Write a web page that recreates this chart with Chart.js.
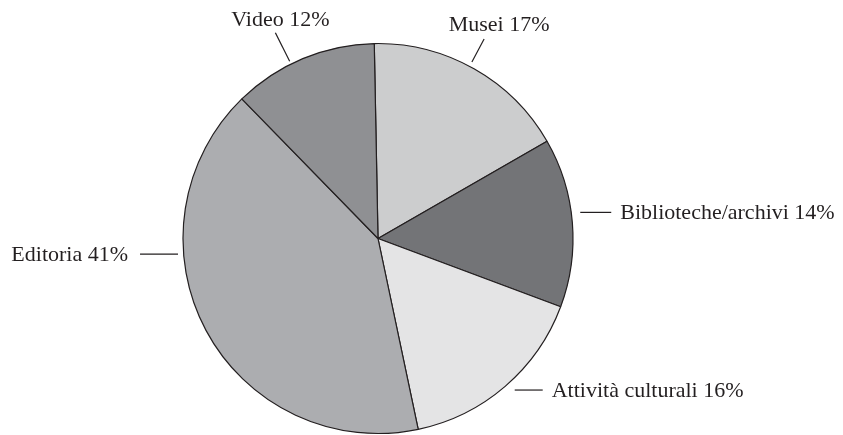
<!DOCTYPE html>
<html>
<head>
<meta charset="utf-8">
<script src="https://cdn.jsdelivr.net/npm/chart.js@4"></script>
<style>
    html, body { margin: 0; padding: 0; background: #ffffff; }
    #torta { display: block; }
</style>
</head>
<body>
<canvas id="torta" width="843" height="435"></canvas>
<script>
const categorie = ['Musei', 'Biblioteche/archivi', 'Attività culturali', 'Editoria', 'Video'];
const percentuali = [17, 14, 16, 41, 12];
const colori = ['#cccdce', '#737477', '#e4e4e5', '#acadb0', '#8f9093'];

// dove mettere le etichette: angolo sul bordo (gradi, 0 = destra, orario), tipo di linea
const posEtichette = [
    { tipo: 'radiale', angolo: -62, gap: 5, lung: 26, dx: 15, dy: -8 },
    { tipo: 'destra', angolo: -7.7, gap: 9, lung: 31, testoGap: 9 },
    { tipo: 'destra', angolo: 51, gap: 14, lung: 28, testoGap: 9 },
    { tipo: 'sinistra', angolo: 175.4, gap: 5.6, lung: 38, testoGap: 12 },
    { tipo: 'radiale', angolo: -116.5, gap: 3, lung: 32, dx: 5, dy: -7 }
];

const etichettePlugin = {
    id: 'etichette',
    afterDatasetsDraw(chart) {
        const ctx = chart.ctx;
        const arco = chart.getDatasetMeta(0).data[0];
        const cx = arco.x, cy = arco.y, r = arco.outerRadius;
        ctx.save();
        ctx.strokeStyle = '#231f20';
        ctx.fillStyle = '#231f20';
        ctx.lineWidth = 1.2;
        ctx.font = '22px "Liberation Serif", serif';
        ctx.textBaseline = 'alphabetic';
        posEtichette.forEach((p, i) => {
            const testo = categorie[i] + ' ' + percentuali[i] + '%';
            const a = p.angolo * Math.PI / 180;
            if (p.tipo == 'radiale') {
                const x1 = cx + Math.cos(a) * (r + p.gap), y1 = cy + Math.sin(a) * (r + p.gap);
                const x2 = cx + Math.cos(a) * (r + p.gap + p.lung), y2 = cy + Math.sin(a) * (r + p.gap + p.lung);
                ctx.beginPath();
                ctx.moveTo(x1, y1);
                ctx.lineTo(x2, y2);
                ctx.stroke();
                ctx.textAlign = 'center';
                ctx.fillText(testo, x2 + p.dx, y2 + p.dy);
            } else {
                const dir = p.tipo == 'destra' ? 1 : -1;
                const bx = cx + Math.cos(a) * r, y = cy + Math.sin(a) * r;
                const x1 = bx + dir * p.gap, x2 = x1 + dir * p.lung;
                ctx.beginPath();
                ctx.moveTo(x1, y);
                ctx.lineTo(x2, y);
                ctx.stroke();
                ctx.textAlign = dir > 0 ? 'left' : 'right';
                ctx.fillText(testo, x2 + dir * p.testoGap, y + 7);
            }
        });
        ctx.restore();
    }
};

new Chart(document.getElementById('torta'), {
    type: 'pie',
    data: {
        labels: categorie,
        datasets: [{
            data: percentuali,
            backgroundColor: colori,
            borderColor: '#231f20',
            borderWidth: 1.2
        }]
    },
    options: {
        responsive: false,
        animation: false,
        rotation: -1.1,
        radius: 195,
        layout: {
            padding: { left: 183, right: 270, top: 43.5, bottom: 1.5 }
        },
        plugins: {
            legend: { display: false },
            tooltip: { enabled: false }
        }
    },
    plugins: [etichettePlugin]
});
</script>
</body>
</html>
